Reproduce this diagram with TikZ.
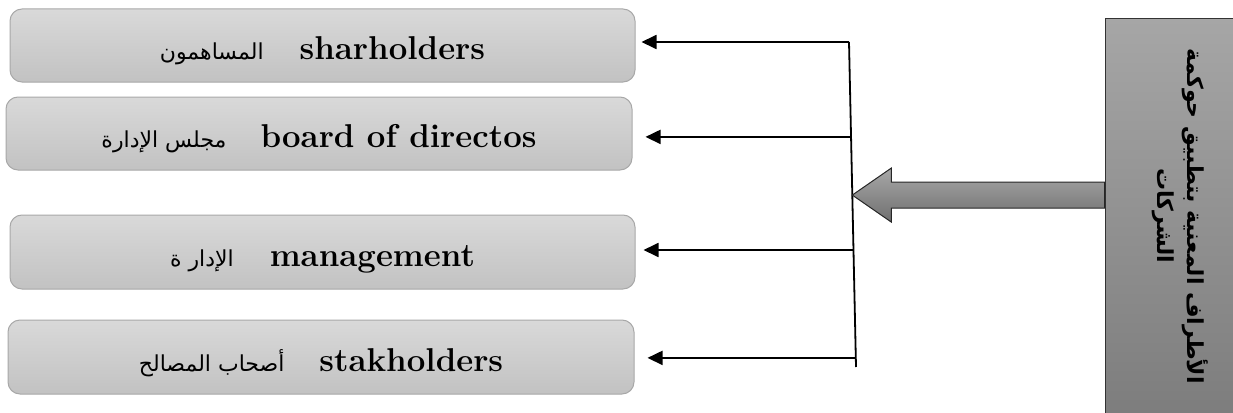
\documentclass[tikz,border=0pt]{standalone}
\usepackage{fontspec}
\newfontfamily\arabicfont[Script=Arabic]{DejaVu Sans}
\TeXXeTstate=1
\usetikzlibrary{arrows.meta,calc}

\definecolor{boxtop}{HTML}{D9D9D9}
\definecolor{boxbot}{HTML}{C2C2C2}
\definecolor{boxedge}{HTML}{A8A8A8}
\definecolor{sidetop}{HTML}{A6A6A6}
\definecolor{sidebot}{HTML}{7C7C7C}
\definecolor{arrtop}{HTML}{A8A8A8}
\definecolor{arrbot}{HTML}{6F6F6F}

\tikzset{
  partbox/.style={draw=boxedge, line width=1pt, rounded corners=12pt,
    top color=boxtop, bottom color=boxbot, inner sep=0pt,
    text height=28pt, text depth=0pt,
    font=\fontsize{33}{36}\selectfont\bfseries},
  feed/.style={line width=1.8pt, -{Triangle[length=15pt,width=14pt]}},
  spine/.style={line width=1.8pt},
}
\newcommand\arlab[1]{{\fontsize{22}{24}\selectfont\arabicfont\mdseries\beginR #1\endR}}

\begin{document}
\begin{tikzpicture}[x=1pt,y=-1pt]
\useasboundingbox (0,0) rectangle (1233,412);
\clip (0,0) rectangle (1233,412);

% the four parties
\node[partbox, minimum width=625pt, minimum height=73pt] (b1) at (322.5,45.5)
  {\arlab{المساهمون}\hspace{36pt}sharholders};
\node[partbox, minimum width=626pt, minimum height=73pt] (b2) at (319,133.5)
  {\arlab{مجلس الإدارة}\hspace{34pt}board of directos};
\node[partbox, minimum width=625pt, minimum height=74pt] (b3) at (322.5,252)
  {\arlab{الإدار ة}\hspace{36pt}management};
\node[partbox, minimum width=626pt, minimum height=74pt] (b4) at (321,357)
  {\arlab{أصحاب المصالح}\hspace{35pt}stakholders};

% the side panel
\node[draw=black!80, line width=1pt, top color=sidetop, bottom color=sidebot,
      minimum width=140pt, minimum height=405pt, inner sep=0pt] (parties) at (1175,221.5) {};
\node[rotate=-90, align=center, inner sep=0pt,
      font=\fontsize{22}{30}\selectfont\arabicfont\bfseries] (ptext) at (1180,216)
  {\beginR الأطراف المعنية بتطبيق حوكمة\endR\\ \beginR الشركات\endR};

% distribution spine
\coordinate (s1) at (849,42);
\coordinate (s4) at (856,367);
\draw[spine] (s1) -- (s4);
\coordinate (s2) at ($(s1)!0.292!(s4)$);
\coordinate (s3) at ($(s1)!0.640!(s4)$);
\coordinate (s5) at ($(s1)!0.972!(s4)$);
\coordinate (tip) at ($(s1)!0.471!(s4)$);

\draw[feed] (s1) -- ([xshift=6pt]b1.east |- s1);
\draw[feed] (s2) -- ([xshift=13pt]b2.east |- s2);
\draw[feed] (s3) -- ([xshift=8pt]b3.east |- s3);
\draw[feed] (s5) -- ([xshift=13pt]b4.east |- s5);

% block arrow from the side panel to the spine
\coordinate (hu) at ([xshift=39pt,yshift=27pt]tip);
\coordinate (su) at ([xshift=39pt,yshift=13pt]tip);
\coordinate (sd) at ([xshift=39pt,yshift=-13pt]tip);
\coordinate (hd) at ([xshift=39pt,yshift=-27pt]tip);
\shade[top color=arrtop, bottom color=arrbot, draw=black!85, line width=1pt, line join=miter]
  (tip) -- (hu) -- (su) -- (parties.west |- su) -- (parties.west |- sd)
  -- (sd) -- (hd) -- cycle;
\end{tikzpicture}
\end{document}
